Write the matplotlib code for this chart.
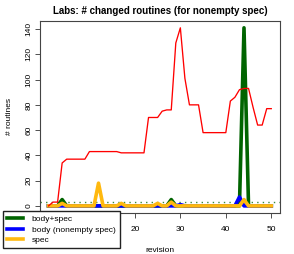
import matplotlib
matplotlib.use('Agg')
import matplotlib.pyplot as plt
import numpy as np

plt.rcParams['font.family'] = ['Liberation Sans', 'DejaVu Sans']

# revisions 1..50
revision = np.arange(1, 51)

# all routines changed (red, not in legend)
total = [0, 3, 3, 34, 37, 37, 37, 37, 37, 43,
         43, 43, 43, 43, 43, 43, 42, 42, 42, 42,
         42, 42, 70, 70, 70, 75, 76, 76, 129, 141,
         101, 80, 80, 80, 58, 58, 58, 58, 58, 58,
         83, 86, 92, 93, 93, 78, 64, 64, 77, 77]

body_spec = [0, 0, 0, 5, 0, 0, 0, 0, 0, 0,
             0, 0, 0, 0, 0, 0, 0, 0, 0, 0,
             0, 0, 0, 0, 0, 0, 0, 5, 0, 0,
             0, 0, 0, 0, 0, 0, 0, 0, 0, 0,
             0, 0, 0, 141, 0, 0, 0, 0, 0, 0]

body_nonempty = [0, 0, 0, 0, 0, 0, 0, 0, 0, 0,
                 0, 0, 0, 0, 0, 0, 0, 0, 0, 0,
                 0, 0, 0, 0, 0, 0, 0, 0, 0, 1,
                 0, 0, 0, 0, 0, 0, 0, 0, 0, 0,
                 0, 0, 7, 0, 0, 0, 0, 0, 0, 0]

spec = [0, 0, 0, 2, 0, 0, 0, 0, 0, 0,
        0, 18, 0, 0, 0, 0, 2, 0, 0, 0,
        0, 0, 0, 0, 2, 0, 0, 3, 0, 0,
        0, 0, 0, 0, 0, 0, 0, 0, 0, 0,
        0, 0, 0, 5, 0, 0, 0, 0, 0, 0]

mean_line = 3

xticks = [0, 10, 20, 30, 40, 50]
xtick_labels = ['', '', '20', '30', '40', '50']  # 0 and 10 sit under the legend
yticks = [0, 20, 40, 60, 80, 100, 120, 140]

fig = plt.figure(figsize=(2.94, 2.54), dpi=100)
ax = fig.add_axes([0.1347, 0.1614, 0.953 - 0.1347, 0.9185 - 0.1614])

ax.axhline(mean_line, color='#3a8a3a', lw=1.0, ls=(0, (1, 3)))
l1, = ax.plot(revision, body_spec, color='#006400', lw=2.6)
l2, = ax.plot(revision, body_nonempty, color='#0000FF', lw=2.6)
l3, = ax.plot(revision, spec, color='#FFB90F', lw=2.6)
ax.plot(revision, total, color='#FF0000', lw=0.95)

ax.set_xlim(-0.96, 51.96)
ax.set_ylim(-5.64, 146.64)
ax.set_xticks(xticks)
ax.set_xticklabels(xtick_labels)
ax.set_yticks(yticks)
for lbl in ax.get_yticklabels():
    lbl.set_rotation(90)
    lbl.set_va('center')
ax.tick_params(labelsize=6, length=3.5, width=0.6, color='#333333')
ax.tick_params(axis='x', pad=6)
ax.tick_params(axis='y', pad=1.5)
for s in ax.spines.values():
    s.set_color('#444444')
    s.set_linewidth(0.8)

ax.set_title('Labs: # changed routines (for nonempty spec)', fontsize=7,
             fontweight='bold', pad=5)
ax.set_xlabel('revision', fontsize=6, labelpad=10)
ax.set_ylabel('# routines', fontsize=6, labelpad=9)

fig.legend([l1, l2, l3], ['body+spec', 'body (nonempty spec)', 'spec'],
           loc='upper left', bbox_to_anchor=(0.009, 0.168),
           bbox_transform=fig.transFigure, borderaxespad=0,
           fontsize=6, frameon=True, fancybox=False, edgecolor='#222222',
           framealpha=1, handlelength=2.0, handletextpad=1.0,
           labelspacing=0.3, borderpad=0.5)

fig.savefig('out.png', dpi=100)
